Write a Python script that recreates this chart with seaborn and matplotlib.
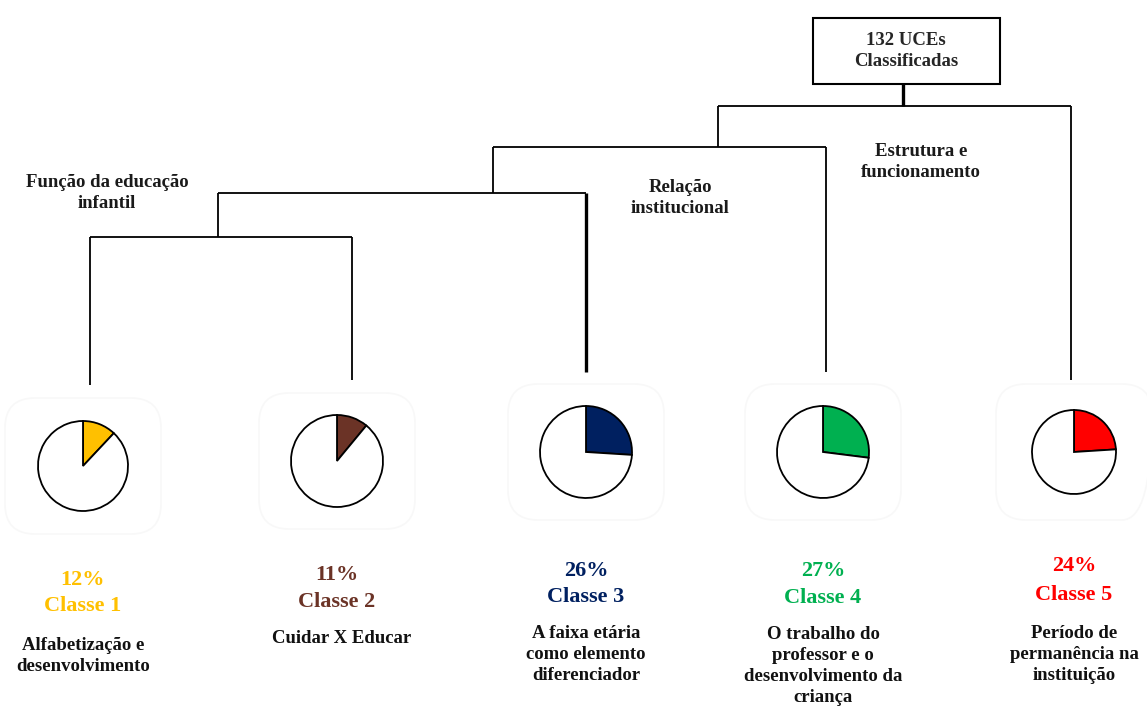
import matplotlib
matplotlib.use("Agg")
import matplotlib.pyplot as plt
import seaborn as sns
from matplotlib.patches import FancyBboxPatch, Rectangle

# data
classes = ["Classe 1", "Classe 2", "Classe 3", "Classe 4", "Classe 5"]
percents = [12, 11, 26, 27, 24]
colors = ["#FFC000", "#6B3326", "#002060", "#00B050", "#FF0000"]
descriptions = [
    "Alfabetização e\ndesenvolvimento",
    "Cuidar X Educar",
    "A faixa etária\ncomo elemento\ndiferenciador",
    "O trabalho do\nprofessor e o\ndesenvolvimento da\ncriança",
    "Período de\npermanência na\ninstituição",
]
root_label = "132 UCEs\nClassificadas"
group_labels = ["Função da educação\ninfantil", "Relação\ninstitucional", "Estrutura e\nfuncionamento"]

# layout (pixels)
W, H = 1147, 706
leaf_x = [90, 352, 586, 826, 1071]
leaf_top = [385, 380, 372, 372, 380]
pie_cx = [83, 337, 586, 823, 1074]
pie_cy = [466, 461, 452, 452, 452]
pie_r = [45, 46, 46, 46, 42]
pct_y = [580, 575, 571, 571, 566]
cls_y = [606, 602, 597, 598, 595]
desc_y = [645, 638, 633, 634, 633]
merge_y = [237, 193, 147, 106]

sns.set_theme(style="white")
plt.rcParams["font.family"] = ["Liberation Serif", "DejaVu Serif"]

fig = plt.figure(figsize=(W / 100, H / 100), dpi=100)
ax = fig.add_axes([0, 0, 1, 1])

# faint boxes behind pies
for cx, cy in zip(pie_cx, pie_cy):
    ax.add_patch(FancyBboxPatch((cx - 78, cy - 68), 156, 136,
                                boxstyle="round,pad=0,rounding_size=30",
                                fc="none", ec="#f8f8f8", lw=1.2))

# pies
for cx, cy, r, p, c in zip(pie_cx, pie_cy, pie_r, percents, colors):
    ax.pie([p, 100 - p], colors=[c, "white"], startangle=270, counterclock=True,
           center=(cx, cy), radius=r, frame=True,
           wedgeprops=dict(edgecolor="black", linewidth=1.3))

# dendrogram
lw = 1.3
line_kw = dict(color="black", lw=lw, solid_capstyle="butt")
for i, (x, top) in enumerate(zip(leaf_x, leaf_top)):
    ybar = merge_y[max(i - 1, 0)]
    ax.plot([x, x], [top, ybar], color="black",
            lw=2.4 if i == 2 else lw, solid_capstyle="butt")

ax.plot([leaf_x[0], leaf_x[1]], [merge_y[0], merge_y[0]], **line_kw)
left_x = [218, 493, 718]
for k in range(1, 4):
    lx = left_x[k - 1]
    ax.plot([lx, lx], [merge_y[k - 1], merge_y[k]], **line_kw)
    ax.plot([lx, leaf_x[k + 1]], [merge_y[k], merge_y[k]], **line_kw)

# root
ax.plot([903, 903], [merge_y[3], 84], color="black", lw=2.4, solid_capstyle="butt")
ax.add_patch(Rectangle((813, 18), 187, 66, fc="white", ec="black", lw=1.5))
ax.text(906, 51, root_label, ha="center", va="center", fontsize=13.5,
        fontweight="bold", linespacing=1.25)

# group labels
group_pos = [(107, 193), (680, 198), (921, 162)]
for (gx, gy), g in zip(group_pos, group_labels):
    ax.text(gx, gy, g, ha="center", va="center", fontsize=13.5,
            fontweight="bold", linespacing=1.35, color="#1a1a1a")

# class labels
for i in range(5):
    cx = pie_cx[i]
    ax.text(cx, pct_y[i], f"{percents[i]}%", ha="center", va="center",
            fontsize=16, fontweight="bold", color=colors[i])
    ax.text(cx, cls_y[i], classes[i], ha="center", va="center",
            fontsize=16, fontweight="bold", color=colors[i])
    ax.text(cx + (5 if i == 1 else 0), desc_y[i] - 8, descriptions[i], ha="center", va="top",
            fontsize=13.5, fontweight="bold", color="#111111", linespacing=1.3)

ax.set_xlim(0, W)
ax.set_ylim(H, 0)
ax.set_aspect("auto")
ax.axis("off")

fig.savefig("out.png", dpi=100, facecolor="white")
